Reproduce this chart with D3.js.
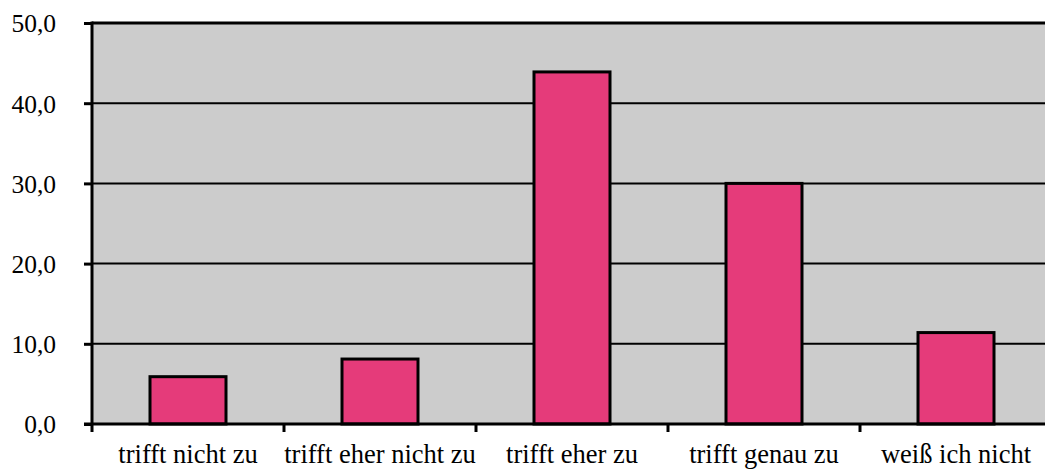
<!DOCTYPE html>
<meta charset="utf-8">
<head>
<script src="https://cdn.jsdelivr.net/npm/d3@7"></script>
<style>
  body { margin: 0; background: #fff; }
</style>
</head>
<body>
<div id="chart"></div>
<script>
  // data
  const categories = ["trifft nicht zu", "trifft eher nicht zu", "trifft eher zu", "trifft genau zu", "weiß ich nicht"];
  const values = [5.9, 8.1, 43.9, 30.0, 11.4];
  const yTicks = [0, 10, 20, 30, 40, 50];

  // sizes
  const W = 1045, H = 471;
  const plotLeft = 92, plotBottom = 424, plotTop = 23;
  const bandW = 192;
  const font = "'Liberation Serif', 'Times New Roman', Times, serif";

  const svg = d3.select("#chart")
    .append("svg")
      .attr("width", W)
      .attr("height", H);

  const x = d3.scaleBand()
    .domain(categories)
    .range([plotLeft, plotLeft + bandW * categories.length])
    .paddingInner(0)
    .paddingOuter(0);

  const y = d3.scaleLinear()
    .domain([0, 50])
    .range([plotBottom, plotTop]);

  // plot background
  svg.append("rect")
    .attr("x", plotLeft)
    .attr("y", y(50))
    .attr("width", x.range()[1] - plotLeft)
    .attr("height", plotBottom - y(50))
    .attr("fill", "#cccccc");

  // gridlines
  svg.append("g")
    .selectAll("line")
    .data(yTicks.filter(d => d > 0))
    .join("line")
      .attr("x1", plotLeft)
      .attr("x2", x.range()[1])
      .attr("y1", d => y(d))
      .attr("y2", d => y(d))
      .attr("stroke", "#000")
      .attr("stroke-width", d => d === 50 ? 3 : 2);

  // bars
  const barW = 76;
  svg.append("g")
    .selectAll("rect")
    .data(values)
    .join("rect")
      .attr("x", (d, i) => x(categories[i]) + x.bandwidth() / 2 - barW / 2)
      .attr("y", d => y(d))
      .attr("width", barW)
      .attr("height", d => plotBottom - y(d))
      .attr("fill", "#e53b7a")
      .attr("stroke", "#000")
      .attr("stroke-width", 3);

  // y axis
  const yAxis = svg.append("g")
    .attr("transform", `translate(${plotLeft},0)`)
    .call(d3.axisLeft(y)
      .tickValues(yTicks)
      .tickSize(8)
      .tickPadding(28)
      .tickFormat(d => d3.format(".1f")(d).replace(".", ",")));
  yAxis.attr("font-family", font).attr("font-size", 25.5);
  yAxis.select(".domain").remove();
  yAxis.selectAll(".tick line").attr("stroke", "#000").attr("stroke-width", 3);
  yAxis.selectAll(".tick text")
    .attr("fill", "#000")
    .style("font-family", font)
    .style("font-size", "25.5px")
    .attr("dy", "0.35em");
  svg.append("line")
    .attr("x1", plotLeft).attr("x2", plotLeft)
    .attr("y1", y(50) - 1.5).attr("y2", plotBottom + 8)
    .attr("stroke", "#000").attr("stroke-width", 3);

  // x axis
  const xAxis = svg.append("g")
    .attr("transform", `translate(0,${plotBottom})`)
    .call(d3.axisBottom(x).tickSize(0).tickPadding(39));
  xAxis.attr("font-family", font).attr("font-size", 26.5);
  xAxis.select(".domain").remove();
  xAxis.selectAll(".tick text")
    .attr("fill", "#000")
    .style("font-family", font)
    .style("font-size", "26.5px")
    .attr("dy", "0");
  svg.append("line")
    .attr("x1", plotLeft - 8).attr("x2", x.range()[1])
    .attr("y1", plotBottom).attr("y2", plotBottom)
    .attr("stroke", "#000").attr("stroke-width", 3);

  // category separators below the axis
  svg.append("g")
    .selectAll("line")
    .data(categories.slice(1))
    .join("line")
      .attr("x1", d => x(d))
      .attr("x2", d => x(d))
      .attr("y1", plotBottom)
      .attr("y2", plotBottom + 8)
      .attr("stroke", "#000")
      .attr("stroke-width", 3);
</script>
</body>
